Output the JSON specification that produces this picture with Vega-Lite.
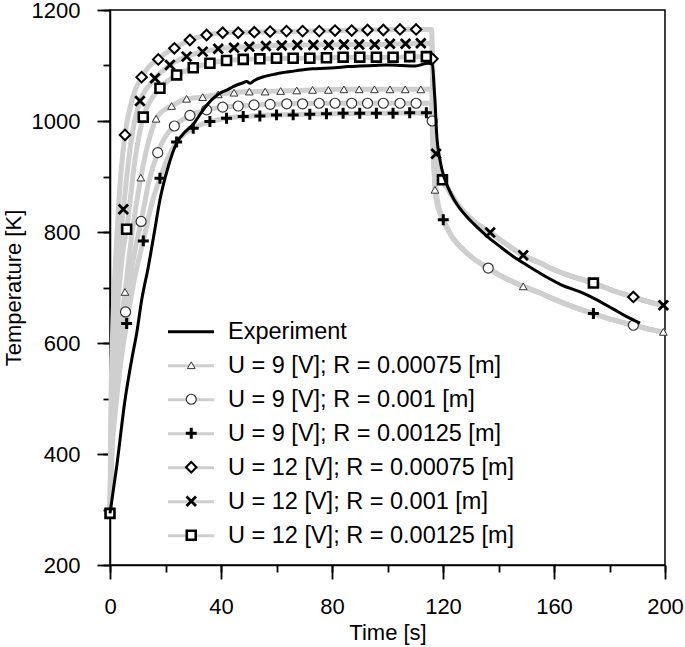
{
  "$schema": "https://vega.github.io/schema/vega-lite/v6.json",
  "width": 555,
  "height": 555,
  "autosize": {"type": "none"},
  "padding": {"left": 110, "top": 10, "right": 20, "bottom": 82},
  "background": "white",
  "config": {
    "view": {"stroke": "black", "strokeWidth": 1.5},
    "font": "Liberation Sans",
    "axis": {
      "domainColor": "black", "domainWidth": 1.5,
      "ticks": true, "tickColor": "black", "tickWidth": 1.8, "tickOpacity": 1,
      "labelFont": "Liberation Sans", "labelFontSize": 22, "labelColor": "black",
      "titleFont": "Liberation Sans", "titleFontSize": 22, "titleFontWeight": "normal", "titleColor": "black",
      "grid": false, "labelFlush": false, "labelOverlap": false
    },
    "legend": {
      "labelFont": "Liberation Sans", "labelFontSize": 23.5, "labelColor": "black", "labelLimit": 0,
      "padding": 0, "rowPadding": 0, "clipHeight": 33.5, "title": null
    }
  },
  "resolve": {"axis": {"x": "independent", "y": "independent"}},
  "datasets": {
    "exp": [
      {"t": 0, "T": 293}, {"t": 2.4, "T": 377}, {"t": 5.4, "T": 497}, {"t": 8, "T": 575},
      {"t": 9.6, "T": 617}, {"t": 11.4, "T": 677}, {"t": 13.8, "T": 737}, {"t": 16, "T": 800},
      {"t": 18, "T": 858}, {"t": 21, "T": 918}, {"t": 24, "T": 960}, {"t": 27, "T": 980},
      {"t": 30, "T": 994}, {"t": 33, "T": 1016}, {"t": 36.6, "T": 1038}, {"t": 39.6, "T": 1050},
      {"t": 42.6, "T": 1057}, {"t": 44.4, "T": 1062}, {"t": 47.5, "T": 1068}, {"t": 49.3, "T": 1071},
      {"t": 50.5, "T": 1068}, {"t": 52, "T": 1073}, {"t": 55.5, "T": 1080}, {"t": 59, "T": 1084},
      {"t": 62, "T": 1087}, {"t": 65, "T": 1089}, {"t": 69, "T": 1092}, {"t": 73, "T": 1094},
      {"t": 77.5, "T": 1095}, {"t": 81, "T": 1096}, {"t": 85.8, "T": 1098}, {"t": 90, "T": 1099},
      {"t": 95, "T": 1100}, {"t": 100, "T": 1101}, {"t": 105, "T": 1100}, {"t": 110, "T": 1099},
      {"t": 114.6, "T": 1104}, {"t": 116.2, "T": 1102}, {"t": 116.8, "T": 1060}, {"t": 117.1, "T": 1038},
      {"t": 117.7, "T": 978}, {"t": 118.9, "T": 930}, {"t": 120.5, "T": 897}, {"t": 122, "T": 878},
      {"t": 124, "T": 858}, {"t": 126, "T": 843}, {"t": 128.5, "T": 828}, {"t": 131, "T": 815},
      {"t": 135.7, "T": 793}, {"t": 140.5, "T": 774}, {"t": 145.3, "T": 756}, {"t": 151, "T": 738},
      {"t": 157.3, "T": 719}, {"t": 163, "T": 704}, {"t": 169.4, "T": 692}, {"t": 174.2, "T": 681},
      {"t": 181.4, "T": 661}, {"t": 186, "T": 648}, {"t": 191, "T": 636}
    ],
    "sim": [
      {"s": "U = 9 [V]; R = 0.00075 [m]", "t": 0, "T": 293},
      {"s": "U = 9 [V]; R = 0.00075 [m]", "t": 0.5, "T": 420},
      {"s": "U = 9 [V]; R = 0.00075 [m]", "t": 1.5, "T": 510},
      {"s": "U = 9 [V]; R = 0.00075 [m]", "t": 3, "T": 600},
      {"s": "U = 9 [V]; R = 0.00075 [m]", "t": 5.4, "T": 692},
      {"s": "U = 9 [V]; R = 0.00075 [m]", "t": 8, "T": 800},
      {"s": "U = 9 [V]; R = 0.00075 [m]", "t": 11.1, "T": 898},
      {"s": "U = 9 [V]; R = 0.00075 [m]", "t": 14, "T": 965},
      {"s": "U = 9 [V]; R = 0.00075 [m]", "t": 16.6, "T": 1004},
      {"s": "U = 9 [V]; R = 0.00075 [m]", "t": 19, "T": 1018},
      {"s": "U = 9 [V]; R = 0.00075 [m]", "t": 22.2, "T": 1027},
      {"s": "U = 9 [V]; R = 0.00075 [m]", "t": 27.6, "T": 1040},
      {"s": "U = 9 [V]; R = 0.00075 [m]", "t": 33.4, "T": 1043},
      {"s": "U = 9 [V]; R = 0.00075 [m]", "t": 39, "T": 1048},
      {"s": "U = 9 [V]; R = 0.00075 [m]", "t": 44.7, "T": 1051},
      {"s": "U = 9 [V]; R = 0.00075 [m]", "t": 50.2, "T": 1053},
      {"s": "U = 9 [V]; R = 0.00075 [m]", "t": 61.5, "T": 1054},
      {"s": "U = 9 [V]; R = 0.00075 [m]", "t": 73, "T": 1056},
      {"s": "U = 9 [V]; R = 0.00075 [m]", "t": 84.3, "T": 1057},
      {"s": "U = 9 [V]; R = 0.00075 [m]", "t": 115.9, "T": 1057},
      {"s": "U = 9 [V]; R = 0.00075 [m]", "t": 116.3, "T": 1000},
      {"s": "U = 9 [V]; R = 0.00075 [m]", "t": 116.7, "T": 930},
      {"s": "U = 9 [V]; R = 0.00075 [m]", "t": 117.1, "T": 876},
      {"s": "U = 9 [V]; R = 0.00075 [m]", "t": 118, "T": 848},
      {"s": "U = 9 [V]; R = 0.00075 [m]", "t": 119, "T": 833},
      {"s": "U = 9 [V]; R = 0.00075 [m]", "t": 120.1, "T": 822},
      {"s": "U = 9 [V]; R = 0.00075 [m]", "t": 122, "T": 802},
      {"s": "U = 9 [V]; R = 0.00075 [m]", "t": 124, "T": 786},
      {"s": "U = 9 [V]; R = 0.00075 [m]", "t": 127.3, "T": 768},
      {"s": "U = 9 [V]; R = 0.00075 [m]", "t": 131, "T": 752},
      {"s": "U = 9 [V]; R = 0.00075 [m]", "t": 136.3, "T": 735},
      {"s": "U = 9 [V]; R = 0.00075 [m]", "t": 142, "T": 718},
      {"s": "U = 9 [V]; R = 0.00075 [m]", "t": 148.9, "T": 702},
      {"s": "U = 9 [V]; R = 0.00075 [m]", "t": 155, "T": 690},
      {"s": "U = 9 [V]; R = 0.00075 [m]", "t": 160, "T": 679},
      {"s": "U = 9 [V]; R = 0.00075 [m]", "t": 167, "T": 665},
      {"s": "U = 9 [V]; R = 0.00075 [m]", "t": 174.2, "T": 653},
      {"s": "U = 9 [V]; R = 0.00075 [m]", "t": 181, "T": 642},
      {"s": "U = 9 [V]; R = 0.00075 [m]", "t": 188.6, "T": 632},
      {"s": "U = 9 [V]; R = 0.00075 [m]", "t": 195, "T": 624},
      {"s": "U = 9 [V]; R = 0.00075 [m]", "t": 200, "T": 619},

      {"s": "U = 9 [V]; R = 0.001 [m]", "t": 0, "T": 293},
      {"s": "U = 9 [V]; R = 0.001 [m]", "t": 0.6, "T": 410},
      {"s": "U = 9 [V]; R = 0.001 [m]", "t": 2, "T": 500},
      {"s": "U = 9 [V]; R = 0.001 [m]", "t": 3.5, "T": 580},
      {"s": "U = 9 [V]; R = 0.001 [m]", "t": 5.6, "T": 656},
      {"s": "U = 9 [V]; R = 0.001 [m]", "t": 8, "T": 740},
      {"s": "U = 9 [V]; R = 0.001 [m]", "t": 11.2, "T": 819},
      {"s": "U = 9 [V]; R = 0.001 [m]", "t": 14, "T": 890},
      {"s": "U = 9 [V]; R = 0.001 [m]", "t": 17.2, "T": 943},
      {"s": "U = 9 [V]; R = 0.001 [m]", "t": 20, "T": 972},
      {"s": "U = 9 [V]; R = 0.001 [m]", "t": 23.2, "T": 991},
      {"s": "U = 9 [V]; R = 0.001 [m]", "t": 28.8, "T": 1010},
      {"s": "U = 9 [V]; R = 0.001 [m]", "t": 34.8, "T": 1020},
      {"s": "U = 9 [V]; R = 0.001 [m]", "t": 40.6, "T": 1025},
      {"s": "U = 9 [V]; R = 0.001 [m]", "t": 46.2, "T": 1027},
      {"s": "U = 9 [V]; R = 0.001 [m]", "t": 51.9, "T": 1029},
      {"s": "U = 9 [V]; R = 0.001 [m]", "t": 63.7, "T": 1031},
      {"s": "U = 9 [V]; R = 0.001 [m]", "t": 75.4, "T": 1032},
      {"s": "U = 9 [V]; R = 0.001 [m]", "t": 115.9, "T": 1032},
      {"s": "U = 9 [V]; R = 0.001 [m]", "t": 116.1, "T": 1000},
      {"s": "U = 9 [V]; R = 0.001 [m]", "t": 116.6, "T": 930},
      {"s": "U = 9 [V]; R = 0.001 [m]", "t": 117.2, "T": 880},
      {"s": "U = 9 [V]; R = 0.001 [m]", "t": 118, "T": 850},
      {"s": "U = 9 [V]; R = 0.001 [m]", "t": 119, "T": 834},
      {"s": "U = 9 [V]; R = 0.001 [m]", "t": 120.1, "T": 822},
      {"s": "U = 9 [V]; R = 0.001 [m]", "t": 122, "T": 802},
      {"s": "U = 9 [V]; R = 0.001 [m]", "t": 124, "T": 786},
      {"s": "U = 9 [V]; R = 0.001 [m]", "t": 127.3, "T": 768},
      {"s": "U = 9 [V]; R = 0.001 [m]", "t": 131, "T": 752},
      {"s": "U = 9 [V]; R = 0.001 [m]", "t": 136.3, "T": 735},
      {"s": "U = 9 [V]; R = 0.001 [m]", "t": 142, "T": 718},
      {"s": "U = 9 [V]; R = 0.001 [m]", "t": 148.9, "T": 702},
      {"s": "U = 9 [V]; R = 0.001 [m]", "t": 155, "T": 690},
      {"s": "U = 9 [V]; R = 0.001 [m]", "t": 160, "T": 679},
      {"s": "U = 9 [V]; R = 0.001 [m]", "t": 167, "T": 665},
      {"s": "U = 9 [V]; R = 0.001 [m]", "t": 174.2, "T": 653},
      {"s": "U = 9 [V]; R = 0.001 [m]", "t": 181, "T": 642},
      {"s": "U = 9 [V]; R = 0.001 [m]", "t": 188.6, "T": 632},
      {"s": "U = 9 [V]; R = 0.001 [m]", "t": 195, "T": 624},
      {"s": "U = 9 [V]; R = 0.001 [m]", "t": 200, "T": 619},

      {"s": "U = 9 [V]; R = 0.00125 [m]", "t": 0, "T": 293},
      {"s": "U = 9 [V]; R = 0.00125 [m]", "t": 0.7, "T": 400},
      {"s": "U = 9 [V]; R = 0.00125 [m]", "t": 2, "T": 480},
      {"s": "U = 9 [V]; R = 0.00125 [m]", "t": 4, "T": 570},
      {"s": "U = 9 [V]; R = 0.00125 [m]", "t": 6, "T": 635},
      {"s": "U = 9 [V]; R = 0.00125 [m]", "t": 9, "T": 720},
      {"s": "U = 9 [V]; R = 0.00125 [m]", "t": 12, "T": 784},
      {"s": "U = 9 [V]; R = 0.00125 [m]", "t": 15, "T": 850},
      {"s": "U = 9 [V]; R = 0.00125 [m]", "t": 18, "T": 897},
      {"s": "U = 9 [V]; R = 0.00125 [m]", "t": 21, "T": 935},
      {"s": "U = 9 [V]; R = 0.00125 [m]", "t": 24, "T": 962},
      {"s": "U = 9 [V]; R = 0.00125 [m]", "t": 30, "T": 987},
      {"s": "U = 9 [V]; R = 0.00125 [m]", "t": 36, "T": 999},
      {"s": "U = 9 [V]; R = 0.00125 [m]", "t": 42, "T": 1005},
      {"s": "U = 9 [V]; R = 0.00125 [m]", "t": 48, "T": 1008},
      {"s": "U = 9 [V]; R = 0.00125 [m]", "t": 60, "T": 1011},
      {"s": "U = 9 [V]; R = 0.00125 [m]", "t": 78, "T": 1013},
      {"s": "U = 9 [V]; R = 0.00125 [m]", "t": 96, "T": 1014},
      {"s": "U = 9 [V]; R = 0.00125 [m]", "t": 115.9, "T": 1015},
      {"s": "U = 9 [V]; R = 0.00125 [m]", "t": 116.4, "T": 960},
      {"s": "U = 9 [V]; R = 0.00125 [m]", "t": 117, "T": 900},
      {"s": "U = 9 [V]; R = 0.00125 [m]", "t": 118, "T": 856},
      {"s": "U = 9 [V]; R = 0.00125 [m]", "t": 119, "T": 836},
      {"s": "U = 9 [V]; R = 0.00125 [m]", "t": 120.1, "T": 822},
      {"s": "U = 9 [V]; R = 0.00125 [m]", "t": 122, "T": 802},
      {"s": "U = 9 [V]; R = 0.00125 [m]", "t": 124, "T": 786},
      {"s": "U = 9 [V]; R = 0.00125 [m]", "t": 127.3, "T": 768},
      {"s": "U = 9 [V]; R = 0.00125 [m]", "t": 131, "T": 752},
      {"s": "U = 9 [V]; R = 0.00125 [m]", "t": 136.3, "T": 735},
      {"s": "U = 9 [V]; R = 0.00125 [m]", "t": 142, "T": 718},
      {"s": "U = 9 [V]; R = 0.00125 [m]", "t": 148.9, "T": 702},
      {"s": "U = 9 [V]; R = 0.00125 [m]", "t": 155, "T": 690},
      {"s": "U = 9 [V]; R = 0.00125 [m]", "t": 160, "T": 679},
      {"s": "U = 9 [V]; R = 0.00125 [m]", "t": 167, "T": 665},
      {"s": "U = 9 [V]; R = 0.00125 [m]", "t": 174.2, "T": 653},
      {"s": "U = 9 [V]; R = 0.00125 [m]", "t": 181, "T": 642},
      {"s": "U = 9 [V]; R = 0.00125 [m]", "t": 188.6, "T": 632},
      {"s": "U = 9 [V]; R = 0.00125 [m]", "t": 195, "T": 624},
      {"s": "U = 9 [V]; R = 0.00125 [m]", "t": 200, "T": 619},

      {"s": "U = 12 [V]; R = 0.00075 [m]", "t": 0, "T": 293},
      {"s": "U = 12 [V]; R = 0.00075 [m]", "t": 0.3, "T": 470},
      {"s": "U = 12 [V]; R = 0.00075 [m]", "t": 1, "T": 630},
      {"s": "U = 12 [V]; R = 0.00075 [m]", "t": 2, "T": 750},
      {"s": "U = 12 [V]; R = 0.00075 [m]", "t": 3, "T": 840},
      {"s": "U = 12 [V]; R = 0.00075 [m]", "t": 4, "T": 910},
      {"s": "U = 12 [V]; R = 0.00075 [m]", "t": 5.4, "T": 975},
      {"s": "U = 12 [V]; R = 0.00075 [m]", "t": 8, "T": 1040},
      {"s": "U = 12 [V]; R = 0.00075 [m]", "t": 11.4, "T": 1079},
      {"s": "U = 12 [V]; R = 0.00075 [m]", "t": 14, "T": 1098},
      {"s": "U = 12 [V]; R = 0.00075 [m]", "t": 17.4, "T": 1111},
      {"s": "U = 12 [V]; R = 0.00075 [m]", "t": 20, "T": 1122},
      {"s": "U = 12 [V]; R = 0.00075 [m]", "t": 23.2, "T": 1131},
      {"s": "U = 12 [V]; R = 0.00075 [m]", "t": 28.8, "T": 1146},
      {"s": "U = 12 [V]; R = 0.00075 [m]", "t": 34.8, "T": 1155},
      {"s": "U = 12 [V]; R = 0.00075 [m]", "t": 40.6, "T": 1159},
      {"s": "U = 12 [V]; R = 0.00075 [m]", "t": 57.7, "T": 1161},
      {"s": "U = 12 [V]; R = 0.00075 [m]", "t": 81.1, "T": 1163},
      {"s": "U = 12 [V]; R = 0.00075 [m]", "t": 104.5, "T": 1165},
      {"s": "U = 12 [V]; R = 0.00075 [m]", "t": 115.9, "T": 1165},
      {"s": "U = 12 [V]; R = 0.00075 [m]", "t": 116.2, "T": 1112},
      {"s": "U = 12 [V]; R = 0.00075 [m]", "t": 116.8, "T": 1010},
      {"s": "U = 12 [V]; R = 0.00075 [m]", "t": 117.5, "T": 941},
      {"s": "U = 12 [V]; R = 0.00075 [m]", "t": 118.5, "T": 915},
      {"s": "U = 12 [V]; R = 0.00075 [m]", "t": 119.8, "T": 894},
      {"s": "U = 12 [V]; R = 0.00075 [m]", "t": 122, "T": 876},
      {"s": "U = 12 [V]; R = 0.00075 [m]", "t": 125, "T": 852},
      {"s": "U = 12 [V]; R = 0.00075 [m]", "t": 128, "T": 834},
      {"s": "U = 12 [V]; R = 0.00075 [m]", "t": 132, "T": 816},
      {"s": "U = 12 [V]; R = 0.00075 [m]", "t": 137, "T": 799},
      {"s": "U = 12 [V]; R = 0.00075 [m]", "t": 142, "T": 781},
      {"s": "U = 12 [V]; R = 0.00075 [m]", "t": 148.9, "T": 758},
      {"s": "U = 12 [V]; R = 0.00075 [m]", "t": 155, "T": 744},
      {"s": "U = 12 [V]; R = 0.00075 [m]", "t": 160, "T": 732},
      {"s": "U = 12 [V]; R = 0.00075 [m]", "t": 167, "T": 719},
      {"s": "U = 12 [V]; R = 0.00075 [m]", "t": 174.2, "T": 708},
      {"s": "U = 12 [V]; R = 0.00075 [m]", "t": 181, "T": 695},
      {"s": "U = 12 [V]; R = 0.00075 [m]", "t": 188.6, "T": 683},
      {"s": "U = 12 [V]; R = 0.00075 [m]", "t": 195, "T": 673},
      {"s": "U = 12 [V]; R = 0.00075 [m]", "t": 200, "T": 667},

      {"s": "U = 12 [V]; R = 0.001 [m]", "t": 0, "T": 293},
      {"s": "U = 12 [V]; R = 0.001 [m]", "t": 0.4, "T": 450},
      {"s": "U = 12 [V]; R = 0.001 [m]", "t": 1.2, "T": 580},
      {"s": "U = 12 [V]; R = 0.001 [m]", "t": 2.5, "T": 700},
      {"s": "U = 12 [V]; R = 0.001 [m]", "t": 3.5, "T": 780},
      {"s": "U = 12 [V]; R = 0.001 [m]", "t": 4.8, "T": 841},
      {"s": "U = 12 [V]; R = 0.001 [m]", "t": 7.5, "T": 960},
      {"s": "U = 12 [V]; R = 0.001 [m]", "t": 10.8, "T": 1036},
      {"s": "U = 12 [V]; R = 0.001 [m]", "t": 13.5, "T": 1060},
      {"s": "U = 12 [V]; R = 0.001 [m]", "t": 16.2, "T": 1077},
      {"s": "U = 12 [V]; R = 0.001 [m]", "t": 21.6, "T": 1101},
      {"s": "U = 12 [V]; R = 0.001 [m]", "t": 27.6, "T": 1116},
      {"s": "U = 12 [V]; R = 0.001 [m]", "t": 33.4, "T": 1125},
      {"s": "U = 12 [V]; R = 0.001 [m]", "t": 39, "T": 1130},
      {"s": "U = 12 [V]; R = 0.001 [m]", "t": 50.2, "T": 1134},
      {"s": "U = 12 [V]; R = 0.001 [m]", "t": 67.5, "T": 1137},
      {"s": "U = 12 [V]; R = 0.001 [m]", "t": 95.4, "T": 1138},
      {"s": "U = 12 [V]; R = 0.001 [m]", "t": 115.9, "T": 1140},
      {"s": "U = 12 [V]; R = 0.001 [m]", "t": 116.4, "T": 1060},
      {"s": "U = 12 [V]; R = 0.001 [m]", "t": 117, "T": 975},
      {"s": "U = 12 [V]; R = 0.001 [m]", "t": 117.5, "T": 941},
      {"s": "U = 12 [V]; R = 0.001 [m]", "t": 118.5, "T": 915},
      {"s": "U = 12 [V]; R = 0.001 [m]", "t": 119.8, "T": 894},
      {"s": "U = 12 [V]; R = 0.001 [m]", "t": 122, "T": 876},
      {"s": "U = 12 [V]; R = 0.001 [m]", "t": 125, "T": 852},
      {"s": "U = 12 [V]; R = 0.001 [m]", "t": 128, "T": 834},
      {"s": "U = 12 [V]; R = 0.001 [m]", "t": 132, "T": 816},
      {"s": "U = 12 [V]; R = 0.001 [m]", "t": 137, "T": 799},
      {"s": "U = 12 [V]; R = 0.001 [m]", "t": 142, "T": 781},
      {"s": "U = 12 [V]; R = 0.001 [m]", "t": 148.9, "T": 758},
      {"s": "U = 12 [V]; R = 0.001 [m]", "t": 155, "T": 744},
      {"s": "U = 12 [V]; R = 0.001 [m]", "t": 160, "T": 732},
      {"s": "U = 12 [V]; R = 0.001 [m]", "t": 167, "T": 719},
      {"s": "U = 12 [V]; R = 0.001 [m]", "t": 174.2, "T": 708},
      {"s": "U = 12 [V]; R = 0.001 [m]", "t": 181, "T": 695},
      {"s": "U = 12 [V]; R = 0.001 [m]", "t": 188.6, "T": 683},
      {"s": "U = 12 [V]; R = 0.001 [m]", "t": 195, "T": 673},
      {"s": "U = 12 [V]; R = 0.001 [m]", "t": 200, "T": 667},

      {"s": "U = 12 [V]; R = 0.00125 [m]", "t": 0, "T": 293},
      {"s": "U = 12 [V]; R = 0.00125 [m]", "t": 0.5, "T": 440},
      {"s": "U = 12 [V]; R = 0.00125 [m]", "t": 1.5, "T": 560},
      {"s": "U = 12 [V]; R = 0.00125 [m]", "t": 3, "T": 680},
      {"s": "U = 12 [V]; R = 0.00125 [m]", "t": 4.5, "T": 760},
      {"s": "U = 12 [V]; R = 0.00125 [m]", "t": 6, "T": 805},
      {"s": "U = 12 [V]; R = 0.00125 [m]", "t": 9, "T": 930},
      {"s": "U = 12 [V]; R = 0.00125 [m]", "t": 12, "T": 1007},
      {"s": "U = 12 [V]; R = 0.00125 [m]", "t": 15, "T": 1040},
      {"s": "U = 12 [V]; R = 0.00125 [m]", "t": 18, "T": 1059},
      {"s": "U = 12 [V]; R = 0.00125 [m]", "t": 24, "T": 1083},
      {"s": "U = 12 [V]; R = 0.00125 [m]", "t": 30, "T": 1096},
      {"s": "U = 12 [V]; R = 0.00125 [m]", "t": 36, "T": 1104},
      {"s": "U = 12 [V]; R = 0.00125 [m]", "t": 42, "T": 1109},
      {"s": "U = 12 [V]; R = 0.00125 [m]", "t": 54, "T": 1112},
      {"s": "U = 12 [V]; R = 0.00125 [m]", "t": 78, "T": 1114},
      {"s": "U = 12 [V]; R = 0.00125 [m]", "t": 102, "T": 1115},
      {"s": "U = 12 [V]; R = 0.00125 [m]", "t": 115.9, "T": 1116},
      {"s": "U = 12 [V]; R = 0.00125 [m]", "t": 116.5, "T": 1030},
      {"s": "U = 12 [V]; R = 0.00125 [m]", "t": 117.2, "T": 960},
      {"s": "U = 12 [V]; R = 0.00125 [m]", "t": 118, "T": 925},
      {"s": "U = 12 [V]; R = 0.00125 [m]", "t": 119.8, "T": 894},
      {"s": "U = 12 [V]; R = 0.00125 [m]", "t": 122, "T": 876},
      {"s": "U = 12 [V]; R = 0.00125 [m]", "t": 125, "T": 852},
      {"s": "U = 12 [V]; R = 0.00125 [m]", "t": 128, "T": 834},
      {"s": "U = 12 [V]; R = 0.00125 [m]", "t": 132, "T": 816},
      {"s": "U = 12 [V]; R = 0.00125 [m]", "t": 137, "T": 799},
      {"s": "U = 12 [V]; R = 0.00125 [m]", "t": 142, "T": 781},
      {"s": "U = 12 [V]; R = 0.00125 [m]", "t": 148.9, "T": 758},
      {"s": "U = 12 [V]; R = 0.00125 [m]", "t": 155, "T": 744},
      {"s": "U = 12 [V]; R = 0.00125 [m]", "t": 160, "T": 732},
      {"s": "U = 12 [V]; R = 0.00125 [m]", "t": 167, "T": 719},
      {"s": "U = 12 [V]; R = 0.00125 [m]", "t": 174.2, "T": 708},
      {"s": "U = 12 [V]; R = 0.00125 [m]", "t": 181, "T": 695},
      {"s": "U = 12 [V]; R = 0.00125 [m]", "t": 188.6, "T": 683},
      {"s": "U = 12 [V]; R = 0.00125 [m]", "t": 195, "T": 673},
      {"s": "U = 12 [V]; R = 0.00125 [m]", "t": 200, "T": 667}
    ],
    "mk": [
      {"s": "U = 9 [V]; R = 0.00075 [m]", "t": 5.4, "T": 692},
      {"s": "U = 9 [V]; R = 0.00075 [m]", "t": 11.1, "T": 898},
      {"s": "U = 9 [V]; R = 0.00075 [m]", "t": 16.6, "T": 1004},
      {"s": "U = 9 [V]; R = 0.00075 [m]", "t": 22.2, "T": 1027},
      {"s": "U = 9 [V]; R = 0.00075 [m]", "t": 27.6, "T": 1040},
      {"s": "U = 9 [V]; R = 0.00075 [m]", "t": 33.4, "T": 1043},
      {"s": "U = 9 [V]; R = 0.00075 [m]", "t": 39, "T": 1048},
      {"s": "U = 9 [V]; R = 0.00075 [m]", "t": 44.7, "T": 1051},
      {"s": "U = 9 [V]; R = 0.00075 [m]", "t": 50.2, "T": 1053},
      {"s": "U = 9 [V]; R = 0.00075 [m]", "t": 55.9, "T": 1053},
      {"s": "U = 9 [V]; R = 0.00075 [m]", "t": 61.5, "T": 1054},
      {"s": "U = 9 [V]; R = 0.00075 [m]", "t": 67.3, "T": 1055},
      {"s": "U = 9 [V]; R = 0.00075 [m]", "t": 73, "T": 1056},
      {"s": "U = 9 [V]; R = 0.00075 [m]", "t": 78.7, "T": 1056},
      {"s": "U = 9 [V]; R = 0.00075 [m]", "t": 84.3, "T": 1057},
      {"s": "U = 9 [V]; R = 0.00075 [m]", "t": 89.8, "T": 1057},
      {"s": "U = 9 [V]; R = 0.00075 [m]", "t": 95.3, "T": 1057},
      {"s": "U = 9 [V]; R = 0.00075 [m]", "t": 100.9, "T": 1057},
      {"s": "U = 9 [V]; R = 0.00075 [m]", "t": 106.4, "T": 1057},
      {"s": "U = 9 [V]; R = 0.00075 [m]", "t": 112, "T": 1057},
      {"s": "U = 9 [V]; R = 0.00075 [m]", "t": 117.1, "T": 876},
      {"s": "U = 9 [V]; R = 0.00075 [m]", "t": 148.9, "T": 702},
      {"s": "U = 9 [V]; R = 0.00075 [m]", "t": 199.4, "T": 620},

      {"s": "U = 9 [V]; R = 0.001 [m]", "t": 5.6, "T": 656},
      {"s": "U = 9 [V]; R = 0.001 [m]", "t": 11.2, "T": 819},
      {"s": "U = 9 [V]; R = 0.001 [m]", "t": 17.2, "T": 943},
      {"s": "U = 9 [V]; R = 0.001 [m]", "t": 23.2, "T": 991},
      {"s": "U = 9 [V]; R = 0.001 [m]", "t": 28.8, "T": 1010},
      {"s": "U = 9 [V]; R = 0.001 [m]", "t": 34.8, "T": 1020},
      {"s": "U = 9 [V]; R = 0.001 [m]", "t": 40.6, "T": 1025},
      {"s": "U = 9 [V]; R = 0.001 [m]", "t": 46.2, "T": 1027},
      {"s": "U = 9 [V]; R = 0.001 [m]", "t": 51.9, "T": 1029},
      {"s": "U = 9 [V]; R = 0.001 [m]", "t": 57.7, "T": 1030},
      {"s": "U = 9 [V]; R = 0.001 [m]", "t": 63.7, "T": 1031},
      {"s": "U = 9 [V]; R = 0.001 [m]", "t": 69.4, "T": 1031},
      {"s": "U = 9 [V]; R = 0.001 [m]", "t": 75.4, "T": 1032},
      {"s": "U = 9 [V]; R = 0.001 [m]", "t": 81.1, "T": 1032},
      {"s": "U = 9 [V]; R = 0.001 [m]", "t": 87.1, "T": 1032},
      {"s": "U = 9 [V]; R = 0.001 [m]", "t": 92.8, "T": 1032},
      {"s": "U = 9 [V]; R = 0.001 [m]", "t": 98.5, "T": 1032},
      {"s": "U = 9 [V]; R = 0.001 [m]", "t": 104.5, "T": 1032},
      {"s": "U = 9 [V]; R = 0.001 [m]", "t": 110.3, "T": 1032},
      {"s": "U = 9 [V]; R = 0.001 [m]", "t": 116.1, "T": 1000},
      {"s": "U = 9 [V]; R = 0.001 [m]", "t": 136.3, "T": 735},
      {"s": "U = 9 [V]; R = 0.001 [m]", "t": 188.6, "T": 632},

      {"s": "U = 9 [V]; R = 0.00125 [m]", "t": 6, "T": 635},
      {"s": "U = 9 [V]; R = 0.00125 [m]", "t": 12, "T": 784},
      {"s": "U = 9 [V]; R = 0.00125 [m]", "t": 18, "T": 897},
      {"s": "U = 9 [V]; R = 0.00125 [m]", "t": 24, "T": 962},
      {"s": "U = 9 [V]; R = 0.00125 [m]", "t": 30, "T": 987},
      {"s": "U = 9 [V]; R = 0.00125 [m]", "t": 36, "T": 999},
      {"s": "U = 9 [V]; R = 0.00125 [m]", "t": 42, "T": 1005},
      {"s": "U = 9 [V]; R = 0.00125 [m]", "t": 48, "T": 1008},
      {"s": "U = 9 [V]; R = 0.00125 [m]", "t": 54, "T": 1009},
      {"s": "U = 9 [V]; R = 0.00125 [m]", "t": 60, "T": 1011},
      {"s": "U = 9 [V]; R = 0.00125 [m]", "t": 66, "T": 1011},
      {"s": "U = 9 [V]; R = 0.00125 [m]", "t": 72, "T": 1012},
      {"s": "U = 9 [V]; R = 0.00125 [m]", "t": 78, "T": 1013},
      {"s": "U = 9 [V]; R = 0.00125 [m]", "t": 84, "T": 1014},
      {"s": "U = 9 [V]; R = 0.00125 [m]", "t": 90, "T": 1014},
      {"s": "U = 9 [V]; R = 0.00125 [m]", "t": 96, "T": 1014},
      {"s": "U = 9 [V]; R = 0.00125 [m]", "t": 102, "T": 1014},
      {"s": "U = 9 [V]; R = 0.00125 [m]", "t": 108, "T": 1015},
      {"s": "U = 9 [V]; R = 0.00125 [m]", "t": 114, "T": 1015},
      {"s": "U = 9 [V]; R = 0.00125 [m]", "t": 120.1, "T": 822},
      {"s": "U = 9 [V]; R = 0.00125 [m]", "t": 174.2, "T": 653},

      {"s": "U = 12 [V]; R = 0.00075 [m]", "t": 5.4, "T": 975},
      {"s": "U = 12 [V]; R = 0.00075 [m]", "t": 11.4, "T": 1079},
      {"s": "U = 12 [V]; R = 0.00075 [m]", "t": 17.4, "T": 1111},
      {"s": "U = 12 [V]; R = 0.00075 [m]", "t": 23.2, "T": 1131},
      {"s": "U = 12 [V]; R = 0.00075 [m]", "t": 28.8, "T": 1146},
      {"s": "U = 12 [V]; R = 0.00075 [m]", "t": 34.8, "T": 1155},
      {"s": "U = 12 [V]; R = 0.00075 [m]", "t": 40.6, "T": 1159},
      {"s": "U = 12 [V]; R = 0.00075 [m]", "t": 46.2, "T": 1159},
      {"s": "U = 12 [V]; R = 0.00075 [m]", "t": 52, "T": 1160},
      {"s": "U = 12 [V]; R = 0.00075 [m]", "t": 57.7, "T": 1161},
      {"s": "U = 12 [V]; R = 0.00075 [m]", "t": 63.6, "T": 1162},
      {"s": "U = 12 [V]; R = 0.00075 [m]", "t": 69.4, "T": 1162},
      {"s": "U = 12 [V]; R = 0.00075 [m]", "t": 75.4, "T": 1162},
      {"s": "U = 12 [V]; R = 0.00075 [m]", "t": 81.1, "T": 1163},
      {"s": "U = 12 [V]; R = 0.00075 [m]", "t": 87.1, "T": 1163},
      {"s": "U = 12 [V]; R = 0.00075 [m]", "t": 92.8, "T": 1164},
      {"s": "U = 12 [V]; R = 0.00075 [m]", "t": 98.5, "T": 1164},
      {"s": "U = 12 [V]; R = 0.00075 [m]", "t": 104.5, "T": 1165},
      {"s": "U = 12 [V]; R = 0.00075 [m]", "t": 110.3, "T": 1165},
      {"s": "U = 12 [V]; R = 0.00075 [m]", "t": 116.2, "T": 1112},
      {"s": "U = 12 [V]; R = 0.00075 [m]", "t": 188.6, "T": 683},

      {"s": "U = 12 [V]; R = 0.001 [m]", "t": 4.8, "T": 841},
      {"s": "U = 12 [V]; R = 0.001 [m]", "t": 10.8, "T": 1036},
      {"s": "U = 12 [V]; R = 0.001 [m]", "t": 16.2, "T": 1077},
      {"s": "U = 12 [V]; R = 0.001 [m]", "t": 21.6, "T": 1101},
      {"s": "U = 12 [V]; R = 0.001 [m]", "t": 27.6, "T": 1116},
      {"s": "U = 12 [V]; R = 0.001 [m]", "t": 33.4, "T": 1125},
      {"s": "U = 12 [V]; R = 0.001 [m]", "t": 39, "T": 1130},
      {"s": "U = 12 [V]; R = 0.001 [m]", "t": 44.7, "T": 1132},
      {"s": "U = 12 [V]; R = 0.001 [m]", "t": 50.2, "T": 1134},
      {"s": "U = 12 [V]; R = 0.001 [m]", "t": 56.2, "T": 1135},
      {"s": "U = 12 [V]; R = 0.001 [m]", "t": 61.9, "T": 1136},
      {"s": "U = 12 [V]; R = 0.001 [m]", "t": 67.5, "T": 1137},
      {"s": "U = 12 [V]; R = 0.001 [m]", "t": 73.3, "T": 1137},
      {"s": "U = 12 [V]; R = 0.001 [m]", "t": 78.8, "T": 1137},
      {"s": "U = 12 [V]; R = 0.001 [m]", "t": 84.3, "T": 1138},
      {"s": "U = 12 [V]; R = 0.001 [m]", "t": 89.8, "T": 1138},
      {"s": "U = 12 [V]; R = 0.001 [m]", "t": 95.4, "T": 1138},
      {"s": "U = 12 [V]; R = 0.001 [m]", "t": 100.9, "T": 1139},
      {"s": "U = 12 [V]; R = 0.001 [m]", "t": 106.5, "T": 1139},
      {"s": "U = 12 [V]; R = 0.001 [m]", "t": 112, "T": 1140},
      {"s": "U = 12 [V]; R = 0.001 [m]", "t": 117.5, "T": 941},
      {"s": "U = 12 [V]; R = 0.001 [m]", "t": 137, "T": 799},
      {"s": "U = 12 [V]; R = 0.001 [m]", "t": 148.9, "T": 758},
      {"s": "U = 12 [V]; R = 0.001 [m]", "t": 199.4, "T": 668},

      {"s": "U = 12 [V]; R = 0.00125 [m]", "t": 0, "T": 293},
      {"s": "U = 12 [V]; R = 0.00125 [m]", "t": 6, "T": 805},
      {"s": "U = 12 [V]; R = 0.00125 [m]", "t": 12, "T": 1007},
      {"s": "U = 12 [V]; R = 0.00125 [m]", "t": 18, "T": 1059},
      {"s": "U = 12 [V]; R = 0.00125 [m]", "t": 24, "T": 1083},
      {"s": "U = 12 [V]; R = 0.00125 [m]", "t": 30, "T": 1096},
      {"s": "U = 12 [V]; R = 0.00125 [m]", "t": 36, "T": 1104},
      {"s": "U = 12 [V]; R = 0.00125 [m]", "t": 42, "T": 1109},
      {"s": "U = 12 [V]; R = 0.00125 [m]", "t": 48, "T": 1111},
      {"s": "U = 12 [V]; R = 0.00125 [m]", "t": 54, "T": 1112},
      {"s": "U = 12 [V]; R = 0.00125 [m]", "t": 60, "T": 1113},
      {"s": "U = 12 [V]; R = 0.00125 [m]", "t": 66, "T": 1113},
      {"s": "U = 12 [V]; R = 0.00125 [m]", "t": 72, "T": 1113},
      {"s": "U = 12 [V]; R = 0.00125 [m]", "t": 78, "T": 1114},
      {"s": "U = 12 [V]; R = 0.00125 [m]", "t": 84, "T": 1115},
      {"s": "U = 12 [V]; R = 0.00125 [m]", "t": 90, "T": 1115},
      {"s": "U = 12 [V]; R = 0.00125 [m]", "t": 96, "T": 1115},
      {"s": "U = 12 [V]; R = 0.00125 [m]", "t": 102, "T": 1115},
      {"s": "U = 12 [V]; R = 0.00125 [m]", "t": 108, "T": 1116},
      {"s": "U = 12 [V]; R = 0.00125 [m]", "t": 114, "T": 1116},
      {"s": "U = 12 [V]; R = 0.00125 [m]", "t": 119.8, "T": 894},
      {"s": "U = 12 [V]; R = 0.00125 [m]", "t": 174.2, "T": 708}
    ]
  },
  "layer": [
    {
      "data": {"name": "sim"},
      "mark": {"type": "line", "strokeWidth": 5, "interpolate": "monotone"},
      "encoding": {
        "x": {
          "field": "t", "type": "quantitative",
          "scale": {"domain": [0, 200], "nice": false, "zero": false},
          "axis": {
            "orient": "bottom", "title": "Time [s]", "format": "d", "ticks": true,
            "values": [0, 40, 80, 120, 160, 200],
            "tickSize": 14, "labelPadding": 17, "titlePadding": 5
          }
        },
        "y": {
          "field": "T", "type": "quantitative",
          "scale": {"domain": [200, 1200], "nice": false, "zero": false},
          "axis": {
            "orient": "left", "title": "Temperature [K]", "format": "d", "ticks": true,
            "values": [200, 400, 600, 800, 1000, 1200],
            "tickSize": 13, "labelPadding": 17, "titlePadding": 6
          }
        },
        "color": {
          "field": "s", "type": "nominal",
          "scale": {
            "domain": ["Experiment", "U = 9 [V]; R = 0.00075 [m]", "U = 9 [V]; R = 0.001 [m]", "U = 9 [V]; R = 0.00125 [m]", "U = 12 [V]; R = 0.00075 [m]", "U = 12 [V]; R = 0.001 [m]", "U = 12 [V]; R = 0.00125 [m]"],
            "range": ["#000000", "#cfcfcf", "#cfcfcf", "#cfcfcf", "#cfcfcf", "#cfcfcf", "#cfcfcf"]
          },
          "legend": {
            "orient": "none", "legendX": 56.5, "legendY": 305,
            "symbolType": "stroke", "symbolSize": 2116, "symbolStrokeWidth": 3,
            "labelOffset": 12.5
          }
        }
      }
    },
    {
      "data": {"name": "mk"},
      "mark": {"type": "point", "filled": true, "opacity": 1},
      "encoding": {
        "x": {"field": "t", "type": "quantitative", "axis": null},
        "y": {"field": "T", "type": "quantitative", "axis": null},
        "shape": {
          "field": "s", "type": "nominal",
          "scale": {
            "domain": ["U = 9 [V]; R = 0.00075 [m]", "U = 9 [V]; R = 0.001 [m]", "U = 9 [V]; R = 0.00125 [m]", "U = 12 [V]; R = 0.00075 [m]", "U = 12 [V]; R = 0.001 [m]", "U = 12 [V]; R = 0.00125 [m]"],
            "range": ["triangle-up", "circle", "M-1,0L1,0M0,-1L0,1", "diamond", "M-1,-1L1,1M1,-1L-1,1", "square"]
          },
          "legend": {
            "orient": "none", "legendX": 69.5, "legendY": 338.5,
            "labelExpr": "''"
          }
        },
        "fill": {
          "field": "s", "type": "nominal",
          "scale": {
            "domain": ["U = 9 [V]; R = 0.00075 [m]", "U = 9 [V]; R = 0.001 [m]", "U = 9 [V]; R = 0.00125 [m]", "U = 12 [V]; R = 0.00075 [m]", "U = 12 [V]; R = 0.001 [m]", "U = 12 [V]; R = 0.00125 [m]"],
            "range": ["#ffffff", "#ffffff", "#000000", "#ffffff", "#ffffff", "#ffffff"]
          }
        },
        "stroke": {
          "field": "s", "type": "nominal",
          "scale": {
            "domain": ["U = 9 [V]; R = 0.00075 [m]", "U = 9 [V]; R = 0.001 [m]", "U = 9 [V]; R = 0.00125 [m]", "U = 12 [V]; R = 0.00075 [m]", "U = 12 [V]; R = 0.001 [m]", "U = 12 [V]; R = 0.00125 [m]"],
            "range": ["#333333", "#333333", "#000000", "#000000", "#000000", "#000000"]
          }
        },
        "size": {
          "field": "s", "type": "nominal",
          "scale": {
            "type": "ordinal",
            "domain": ["U = 9 [V]; R = 0.00075 [m]", "U = 9 [V]; R = 0.001 [m]", "U = 9 [V]; R = 0.00125 [m]", "U = 12 [V]; R = 0.00075 [m]", "U = 12 [V]; R = 0.001 [m]", "U = 12 [V]; R = 0.00125 [m]"],
            "range": [60, 100, 120, 110, 90, 80]
          }
        },
        "strokeWidth": {
          "field": "s", "type": "nominal",
          "scale": {
            "type": "ordinal",
            "domain": ["U = 9 [V]; R = 0.00075 [m]", "U = 9 [V]; R = 0.001 [m]", "U = 9 [V]; R = 0.00125 [m]", "U = 12 [V]; R = 0.00075 [m]", "U = 12 [V]; R = 0.001 [m]", "U = 12 [V]; R = 0.00125 [m]"],
            "range": [1, 1.2, 3, 2, 2.8, 2.6]
          }
        }
      }
    },
    {
      "data": {"name": "exp"},
      "mark": {"type": "line", "strokeWidth": 3, "interpolate": "monotone"},
      "encoding": {
        "x": {
          "field": "t", "type": "quantitative",
          "axis": {
            "orient": "bottom", "title": null, "labels": false, "domain": false, "ticks": true,
            "values": [0, 20, 40, 60, 80, 100, 120, 140, 160, 180, 200],
            "tickSize": 7
          }
        },
        "y": {
          "field": "T", "type": "quantitative",
          "axis": {
            "orient": "left", "title": null, "labels": false, "domain": false, "ticks": true,
            "values": [200, 300, 400, 500, 600, 700, 800, 900, 1000, 1100, 1200],
            "tickSize": 7
          }
        },
        "color": {"datum": "Experiment", "type": "nominal"}
      }
    }
  ]
}
